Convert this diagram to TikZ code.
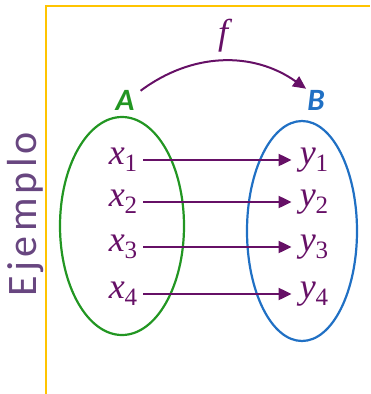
\documentclass[tikz,border=0pt]{standalone}
\usepackage{fontspec}
\setsansfont{Carlito}
\newfontfamily\eltfont{Liberation Serif}
\usetikzlibrary{arrows.meta, positioning, calc, shapes.geometric}

\definecolor{mappurple}{RGB}{102,16,102}
\definecolor{titlepurple}{RGB}{104,70,128}
\definecolor{setgreen}{RGB}{34,150,34}
\definecolor{setblue}{RGB}{32,112,196}
\definecolor{framegold}{RGB}{255,196,0}

% element with a lowered index
\newcommand{\elt}[2]{{\itshape #1}\raisebox{-7pt}{\fontsize{25}{25}\selectfont #2}}

\begin{document}
\begin{tikzpicture}[x=1pt, y=-1pt,
    elem/.style={text=mappurple, font=\eltfont\fontsize{36}{40}\selectfont, inner sep=3pt},
    setlabel/.style={font=\sffamily\bfseries\itshape\fontsize{31}{34}\selectfont, inner sep=1pt},
    setbox/.style={ellipse, line width=2.2pt, inner sep=0pt},
    map/.style={mappurple, line width=2.2pt, -{Triangle[length=13pt,width=12pt]}}]
    \useasboundingbox (0,0) rectangle (370,394);
    \draw[framegold, line width=1.2pt] (46,394) -- (46,6) -- (370,6);
    \node[rotate=90, text=titlepurple, font=\sffamily\fontsize{42}{46}\selectfont\addfontfeatures{LetterSpace=10}] (title) at (26,214) {Ejemplo};

    \node[setbox, draw=setgreen, minimum width=124pt, minimum height=218pt] (setA) at (122,226) {};
    \node[setbox, draw=setblue, minimum width=110pt, minimum height=220pt] (setB) at (302,231) {};
    \node[setlabel, text=setgreen] (A) at (125,100) {A};
    \node[setlabel, text=setblue] (B) at (316,100) {B};
    \draw[map, line width=2pt] ([xshift=5pt,yshift=-2pt]A.north east) to[bend left=36] node[elem, above=7pt, inner sep=1pt] (fname) {\itshape f} (B.north west);

    \foreach \i/\y in {1/160, 2/202, 3/247, 4/294}
    {
        \node[elem] (x\i) at (123,\y) {\elt{x}{\i}};
        \node[elem] (y\i) at (314,\y) {\elt{y}{\i}};
        \draw[map, shorten <=3pt, shorten >=5pt] (x\i) -- (y\i);
    }
\end{tikzpicture}
\end{document}
